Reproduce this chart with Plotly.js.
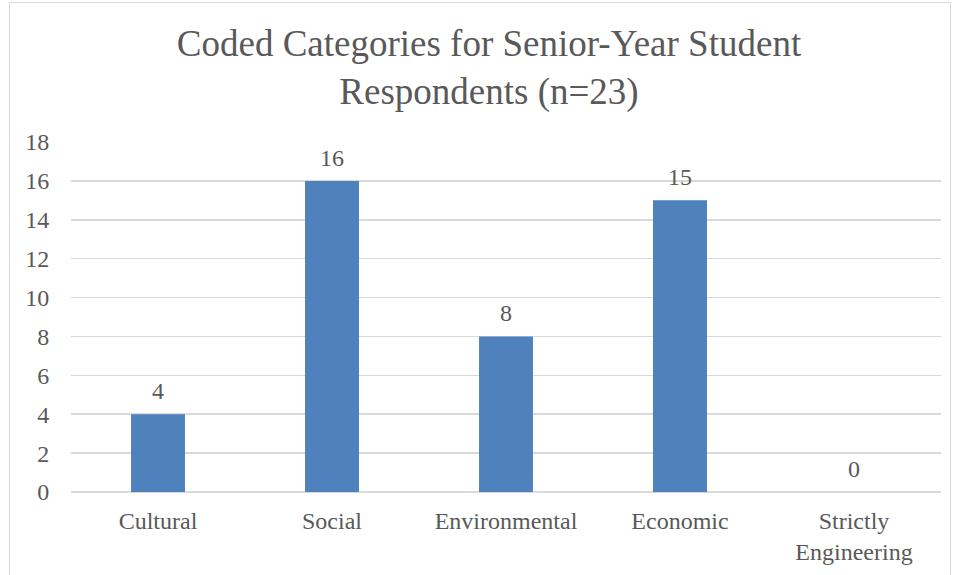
<!DOCTYPE html>
<html>
<head>
<meta charset="utf-8">
<script src="https://cdn.plot.ly/plotly-3.0.1.min.js"></script>
<style>
html,body{margin:0;padding:0;background:#fff;}
#wrap{position:relative;width:956px;height:575px;overflow:hidden;}
#chart{width:956px;height:575px;}
#frame{position:absolute;left:9px;top:2px;width:940px;height:600px;border:1px solid #d9d9d9;pointer-events:none;}
</style>
</head>
<body>
<div id="wrap"><div id="chart"></div><div id="frame"></div></div>
<script>
const categories = ["Cultural", "Social", "Environmental", "Economic", "Strictly<br>Engineering"];
const counts = [4, 16, 8, 15, 0];
const yTicks = [0, 2, 4, 6, 8, 10, 12, 14, 16, 18];

const font = "'Liberation Serif', 'Times New Roman', serif";
const grey = "#595959";

const labels = categories.map((c, i) => ({
  x: c, y: counts[i], xref: "x", yref: "y",
  text: String(counts[i]), showarrow: false,
  yanchor: "bottom", yshift: 8,
  font: {family: font, size: 24, color: grey}
}));

Plotly.newPlot("chart", [{
  type: "bar",
  x: categories,
  y: counts,
  marker: {color: "#4f81bd"},
  hoverinfo: "skip"
}], {
  width: 956, height: 575,
  margin: {l: 71, r: 15, t: 142, b: 83},
  paper_bgcolor: "#fff", plot_bgcolor: "#fff",
  bargap: 0.69,
  showlegend: false,
  annotations: labels,
  title: {
    text: "Coded Categories for Senior-Year Student<br>Respondents (n=23)",
    font: {family: font, size: 37, color: grey},
    x: 0.5115, xref: "container", xanchor: "center",
    y: 0.902, yref: "container", yanchor: "top"
  },
  xaxis: {
    tickfont: {family: font, size: 24, color: grey},
    showgrid: false, showline: false,
    ticks: "outside", ticklen: 7, tickcolor: "rgba(0,0,0,0)",
    fixedrange: true
  },
  yaxis: {
    range: [0, 18], tickvals: yTicks,
    tickfont: {family: font, size: 24, color: grey},
    gridcolor: "#d9d9d9", gridwidth: 1.5,
    zeroline: true, zerolinecolor: "#d9d9d9", zerolinewidth: 1.5,
    showline: false, ticks: "outside", ticklen: 16, tickcolor: "rgba(0,0,0,0)",
    fixedrange: true
  }
}, {displayModeBar: false, staticPlot: true});
</script>
</body>
</html>
